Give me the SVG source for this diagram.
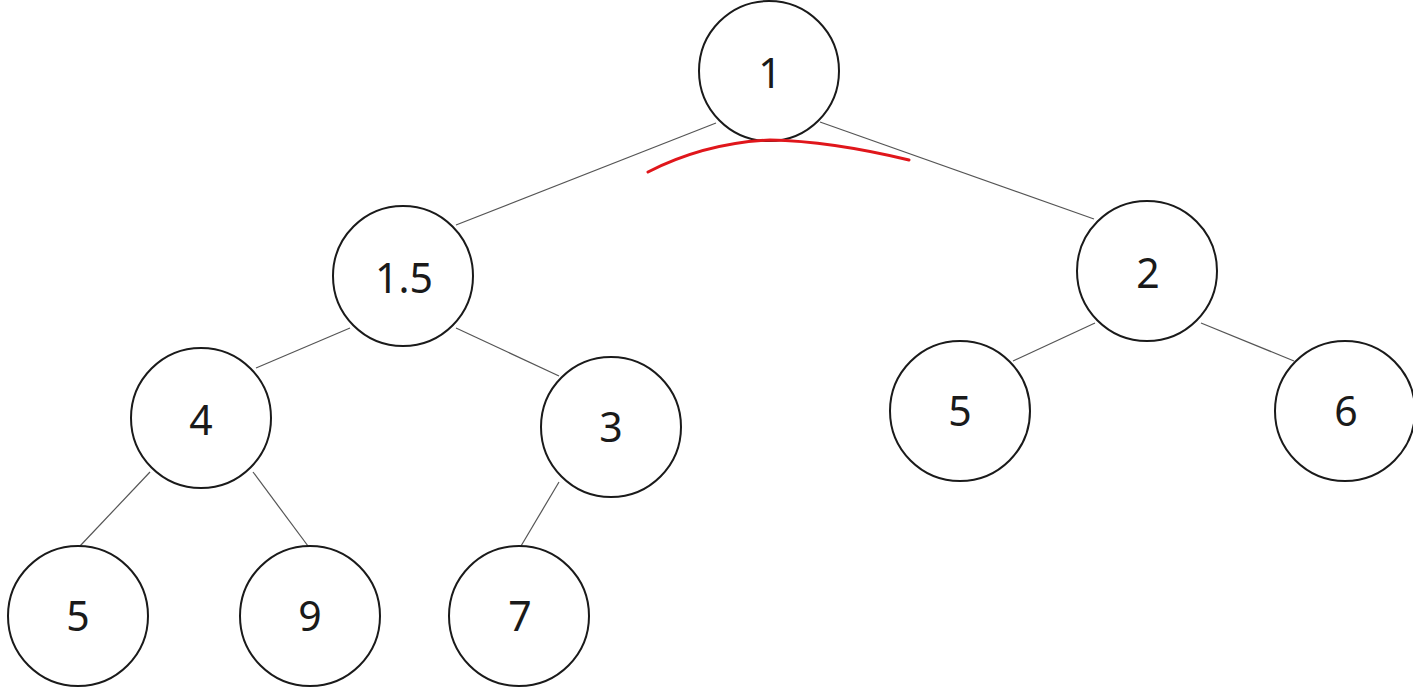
<svg xmlns="http://www.w3.org/2000/svg" width="1413" height="689" viewBox="0 0 1413 689">
<style>
.n{fill:#fff;stroke:#1a1a1a;stroke-width:2}
.t{font-family:"Noto Sans","Open Sans",sans-serif;font-size:41px;fill:#1a1a1a;text-anchor:middle}
.e{stroke:#555;stroke-width:1.2;fill:none}
</style>
<rect width="1413" height="689" fill="#fff"/>
<g id="connectors">
<line class="e" x1="716" y1="123" x2="456" y2="225"/>
<line class="e" x1="820" y1="122" x2="1094" y2="219"/>
<line class="e" x1="350" y1="328" x2="256" y2="368"/>
<line class="e" x1="456" y1="328" x2="559" y2="376"/>
<line class="e" x1="150" y1="472" x2="80" y2="546"/>
<line class="e" x1="253" y1="472" x2="308" y2="546"/>
<line class="e" x1="559" y1="482" x2="521" y2="546"/>
<line class="e" x1="1095" y1="323" x2="1013" y2="361"/>
<line class="e" x1="1201" y1="323" x2="1294" y2="361"/>
</g>
<g id="n1"><circle class="n" cx="769" cy="71" r="70"/><text class="t" x="770" y="88">1</text></g>
<g id="n15"><circle class="n" cx="403" cy="276" r="70"/><text class="t" x="404" y="293">1.5</text></g>
<g id="n2"><circle class="n" cx="1147" cy="271" r="70"/><text class="t" x="1148" y="288">2</text></g>
<g id="n4"><circle class="n" cx="201" cy="418" r="70"/><text class="t" x="201" y="435">4</text></g>
<g id="n3"><circle class="n" cx="611" cy="427" r="70"/><text class="t" x="611" y="442">3</text></g>
<g id="n5r"><circle class="n" cx="960" cy="411" r="70"/><text class="t" x="960" y="426">5</text></g>
<g id="n6"><circle class="n" cx="1345" cy="411" r="70"/><text class="t" x="1346" y="426">6</text></g>
<g id="n5l"><circle class="n" cx="78" cy="616" r="70"/><text class="t" x="78" y="631">5</text></g>
<g id="n9"><circle class="n" cx="310" cy="616" r="70"/><text class="t" x="310" y="631">9</text></g>
<g id="n7"><circle class="n" cx="519" cy="616" r="70"/><text class="t" x="520" y="631">7</text></g>
<path d="M648,172 Q705,143 770,140 Q830,141 909,160" fill="none" stroke="#e0161b" stroke-width="3" stroke-linecap="round"/>
</svg>
